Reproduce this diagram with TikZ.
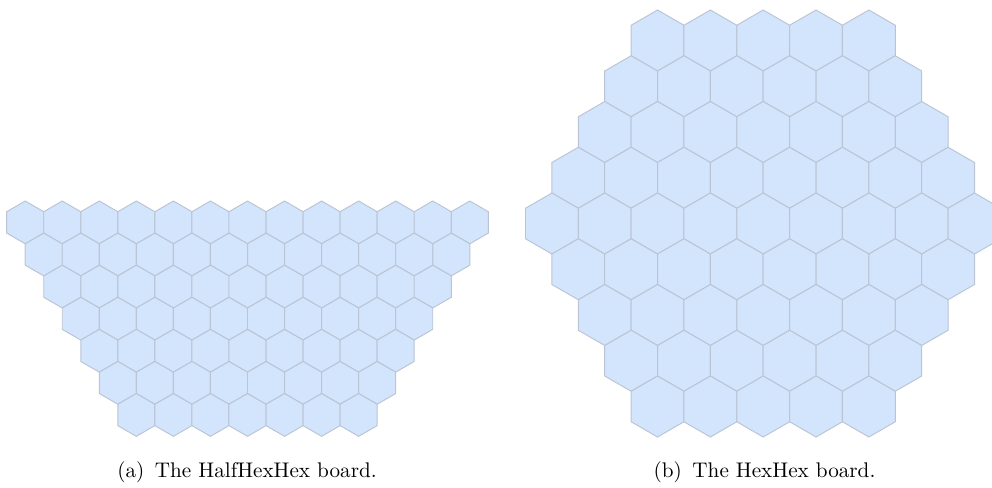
\documentclass[tikz,border=0pt]{standalone}
\usetikzlibrary{shapes.geometric}

\definecolor{cellfill}{RGB}{211,228,253}
\definecolor{celledge}{RGB}{186,196,211}

\begin{document}
\begin{tikzpicture}[x=0.0166cm, y=-0.0166cm,
  hexbase/.style={regular polygon, regular polygon sides=6, shape border rotate=30,
                  draw=celledge, fill=cellfill, line width=0.45pt, inner sep=0pt, outer sep=0pt},
  smallhex/.style={hexbase, minimum size=0.710cm},
  bighex/.style={hexbase, minimum size=1.0126cm},
  caption/.style={anchor=base, font=\normalsize}
]
  \useasboundingbox (0,0) rectangle (992,487);

  % HalfHexHex board
  \foreach \i in {0,...,6}{
    \pgfmathtruncatemacro\last{12-\i}
    \foreach \j in {0,...,\last}
      \node[smallhex] (a-\i-\j) at ({25.22+18.52*\i+37.05*\j},{222.39+32.09*\i}) {};
  }

  % HexHex board
  \foreach \k in {0,...,8}{
    \pgfmathtruncatemacro\n{9-abs(\k-4)}
    \pgfmathtruncatemacro\last{\n-1}
    \foreach \j in {0,...,\last}
      \node[bighex] (b-\k-\j) at ({763.2+52.83*(\j-(\n-1)/2)},{40.5+45.75*\k}) {};
  }

  % Captions
  \node[caption] (capa) at (247,477) {(a)\enspace The HalfHexHex board.};
  \node[caption] (capb) at (764.5,477) {(b)\enspace The HexHex board.};
\end{tikzpicture}
\end{document}
